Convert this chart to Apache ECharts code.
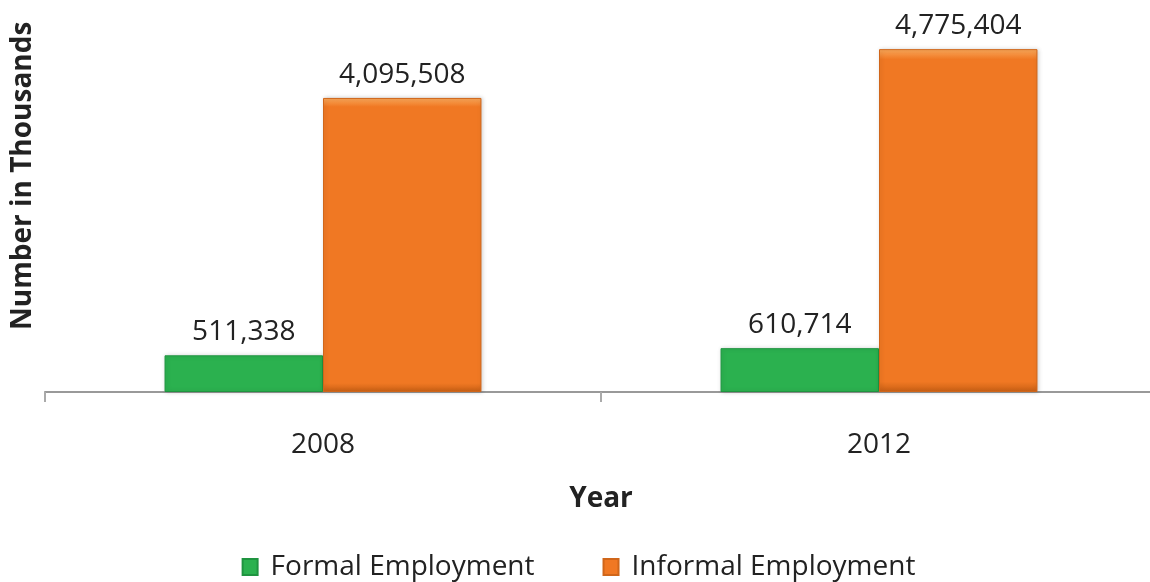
<!DOCTYPE html>
<html>
<head>
<meta charset="utf-8">
<script src="https://cdn.jsdelivr.net/npm/echarts@6/dist/echarts.min.js"></script>
<style>
  html, body { margin: 0; padding: 0; background: #ffffff; overflow: hidden; }
  /* the canvas is a little wider than the page so the last category boundary falls just off the right edge */
  #chart { width: 1157px; height: 582px; }
</style>
</head>
<body>
<div id="chart"></div>
<script>
// Employment by sector, in thousands
const years = ['2008', '2012'];
const formalEmployment = [511338, 610714];
const informalEmployment = [4095508, 4775404];
const seriesNames = ['Formal Employment', 'Informal Employment'];

const FONT = '"Open Sans", "Noto Sans", sans-serif';
const TEXT = '#222222';

function barFill(light, base, dark) {
  return new echarts.graphic.LinearGradient(0, 0, 0, 1, [
    { offset: 0, color: light },
    { offset: 0.03, color: base },
    { offset: 0.97, color: base },
    { offset: 1, color: dark }
  ]);
}

const valueLabel = {
  show: true,
  position: 'top',
  distance: 9,
  fontFamily: FONT,
  fontSize: 28,
  color: TEXT,
  formatter: p => p.value.toLocaleString('en-US')
};

const chart = echarts.init(document.getElementById('chart'));
chart.setOption({
  animation: false,
  backgroundColor: '#ffffff',
  grid: { left: 45, right: 0, top: 33, bottom: 190, containLabel: false },
  legend: {
    bottom: -4,
    left: 'center',
    itemWidth: 15,
    itemHeight: 16,
    itemGap: 68,
    icon: 'rect',
    textStyle: { fontFamily: FONT, fontSize: 28, color: TEXT, padding: [0, 0, 0, 8] },
    data: seriesNames
  },
  graphic: [{
    type: 'text',
    rotation: Math.PI / 2,
    x: 9,
    y: 330,
    style: {
      text: 'Number in Thousands',
      fontFamily: FONT,
      fontSize: 28,
      fontWeight: 'bold',
      fill: TEXT,
      textAlign: 'left',
      textVerticalAlign: 'top'
    }
  }],
  xAxis: {
    type: 'category',
    data: years,
    name: 'Year',
    nameLocation: 'middle',
    nameGap: 93,
    nameTextStyle: { fontFamily: FONT, fontSize: 28, fontWeight: 'bold', color: TEXT },
    axisLine: { show: true, lineStyle: { color: '#999999', width: 2 } },
    axisTick: { show: true, alignWithLabel: false, interval: 0, length: 10, lineStyle: { color: '#aaaaaa', width: 2 } },
    axisLabel: { margin: 39, fontFamily: FONT, fontSize: 28, color: TEXT }
  },
  yAxis: {
    type: 'value',
    min: 0,
    max: 5000000,
    axisLine: { show: false },
    axisTick: { show: false },
    axisLabel: { show: false },
    splitLine: { show: false }
  },
  series: [
    {
      name: seriesNames[0],
      type: 'bar',
      data: formalEmployment,
      barGap: '0%',
      barCategoryGap: '43%',
      color: '#2bb14f',
      itemStyle: {
        color: barFill('#6fd08a', '#2bb14f', '#1e8a3a'),
        borderColor: '#1f9440',
        borderWidth: 1,
        shadowColor: 'rgba(0,0,0,0.18)',
        shadowBlur: 4,
        shadowOffsetX: 1
      },
      label: valueLabel
    },
    {
      name: seriesNames[1],
      type: 'bar',
      data: informalEmployment,
      color: '#f07823',
      itemStyle: {
        color: barFill('#f9a85a', '#f07823', '#c85f14'),
        borderColor: '#d0661a',
        borderWidth: 1,
        shadowColor: 'rgba(0,0,0,0.18)',
        shadowBlur: 4,
        shadowOffsetX: 1
      },
      label: valueLabel
    }
  ]
});
</script>
</body>
</html>
